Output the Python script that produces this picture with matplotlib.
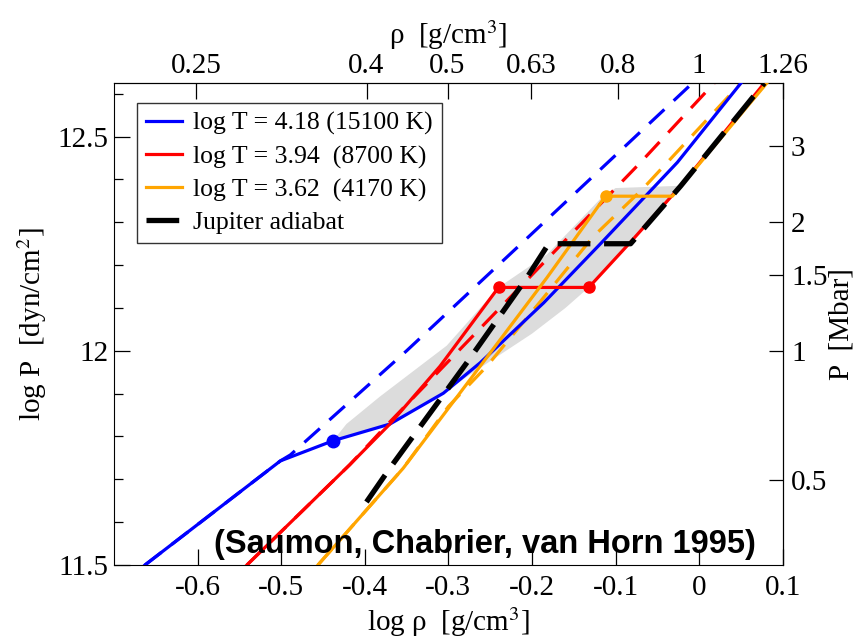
import numpy as np
import matplotlib
matplotlib.use("Agg")
import matplotlib.pyplot as plt

plt.rcParams['font.family'] = ['Liberation Serif', 'DejaVu Serif']
plt.rcParams['mathtext.fontset'] = 'stix'
plt.rcParams['axes.unicode_minus'] = False

# isotherms, log rho vs log P
blue_x = [-0.663, -0.501, -0.438, -0.370, -0.306, -0.262, -0.186, -0.118, -0.026, 0.050]
blue_y = [11.500, 11.743, 11.790, 11.829, 11.901, 11.972, 12.112, 12.250, 12.440, 12.625]
blue_dash_x = [-0.663, -0.501, -0.489, -0.350, -0.214, -0.008]
blue_dash_y = [11.500, 11.743, 11.757, 12.000, 12.248, 12.625]

red_x = [-0.541, -0.418, -0.370, -0.310, -0.240, -0.132, -0.082, -0.022, 0.078]
red_y = [11.500, 11.734, 11.829, 11.964, 12.148, 12.148, 12.254, 12.385, 12.625]
red_dash_x = [-0.541, -0.418, -0.372, -0.070, 0.018]
red_dash_y = [11.500, 11.734, 11.830, 12.440, 12.625]

orange_x = [-0.456, -0.354, -0.262, -0.182, -0.112, -0.032, 0.081]
orange_y = [11.500, 11.726, 11.964, 12.171, 12.361, 12.361, 12.625]
orange_dash_x = [-0.456, -0.354, -0.300, -0.254, -0.190, -0.127, -0.068, 0.050]
orange_dash_y = [11.500, 11.726, 11.870, 11.964, 12.115, 12.266, 12.377, 12.625]

jup_x = [-0.398, -0.370, -0.278, -0.206, -0.180, -0.082, -0.022, 0.078]
jup_y = [11.647, 11.726, 11.972, 12.171, 12.250, 12.250, 12.385, 12.625]

# phase transition end points
blue_pt_x, blue_pt_y = [-0.438], [11.790]
red_pt_x, red_pt_y = [-0.240, -0.132], [12.148, 12.148]
orange_pt_x, orange_pt_y = [-0.112], [12.361]

# shaded coexistence region
ppt_x = [-0.438, -0.422, -0.382, -0.302, -0.240, -0.182, -0.118, -0.100, -0.026,
         -0.030, -0.082, -0.132, -0.160, -0.200, -0.270, -0.306, -0.370, -0.438]
ppt_y = [11.790, 11.829, 11.893, 12.012, 12.148, 12.225, 12.355, 12.380, 12.385,
         12.370, 12.254, 12.148, 12.100, 12.040, 11.950, 11.901, 11.829, 11.790]

xticks = [-0.6, -0.5, -0.4, -0.3, -0.2, -0.1, 0.0, 0.1]
xtick_labels = ['-0.6', '-0.5', '-0.4', '-0.3', '-0.2', '-0.1', '0', '0.1']
yticks = [11.5, 12.0, 12.5]
ytick_labels = ['11.5', '12', '12.5']
rho_ticks = [0.25, 0.4, 0.5, 0.63, 0.8, 1, 1.26]
rho_labels = ['0.25', '0.4', '0.5', '0.63', '0.8', '1', '1.26']
mbar_ticks = [0.5, 1, 1.5, 2, 3]
mbar_labels = ['0.5', '1', '1.5', '2', '3']

fig = plt.figure(figsize=(8.62, 6.41), dpi=100)
ax = fig.add_axes([0.1323, 0.1186, 0.7757, 0.7524])

ax.fill(ppt_x, ppt_y, color='#dcdcdc', lw=0, zorder=1)

lw = 2.3
dash = (6.5, 4.0)
ax.plot(blue_dash_x, blue_dash_y, color='blue', lw=lw, dashes=dash, zorder=2)
ax.plot(red_dash_x, red_dash_y, color='red', lw=lw, dashes=dash, zorder=2)
ax.plot(orange_dash_x, orange_dash_y, color='orange', lw=lw, dashes=dash, zorder=2)
ax.plot(blue_x, blue_y, color='blue', lw=lw, zorder=3, label='log T = 4.18 (15100 K)')
ax.plot(red_x, red_y, color='red', lw=lw, zorder=3, label='log T = 3.94  (8700 K)')
ax.plot(orange_x, orange_y, color='orange', lw=lw, zorder=3, label='log T = 3.62  (4170 K)')
ax.plot(jup_x, jup_y, color='black', lw=3.8, dashes=(6.2, 2.6), zorder=4, label='Jupiter adiabat')

ax.plot(blue_pt_x, blue_pt_y, 'o', color='blue', ms=9, zorder=5)
ax.plot(red_pt_x, red_pt_y, 'o', color='red', ms=8, zorder=5)
ax.plot(orange_pt_x, orange_pt_y, 'o', color='orange', ms=8, zorder=5)

ax.set_xlim(-0.7, 0.1)
ax.set_ylim(11.5, 12.626)
ax.set_xticks(xticks, xtick_labels)
ax.set_yticks(yticks, ytick_labels)
ax.set_yticks(np.arange(11.6, 12.61, 0.1), minor=True)
ax.tick_params(which='major', direction='in', length=11.5, width=0.9, labelsize=21,
               top=False, right=False)
ax.tick_params(axis='x', pad=7)
ax.tick_params(axis='y', pad=4)
ax.tick_params(which='minor', direction='in', length=6.5, width=0.9, right=False)
ax.set_xlabel('log ρ  [g/cm$^3$]', fontsize=21, labelpad=3)
ax.set_ylabel('log P  [dyn/cm$^2$]', fontsize=21, labelpad=6)

top = ax.secondary_xaxis('top')
top.set_xticks(np.minimum(np.log10(rho_ticks), 0.1), rho_labels)
top.tick_params(direction='in', length=11.5, width=0.9, labelsize=21, pad=3)
top.set_xlabel('ρ  [g/cm$^3$]', fontsize=21, labelpad=6)

right = ax.secondary_yaxis('right')
right.set_yticks(12 + np.log10(mbar_ticks), mbar_labels)
right.tick_params(direction='in', length=10, width=0.9, labelsize=21, pad=6)
right.set_ylabel('P  [Mbar]', fontsize=21, labelpad=1)

leg = ax.legend(loc='upper left', bbox_to_anchor=(0.034, 0.958), borderaxespad=0,
                fontsize=18.5, frameon=True, fancybox=False, edgecolor='black',
                handlelength=1.4, handletextpad=0.45, labelspacing=0.38, borderpad=0.35)
leg.get_frame().set_linewidth(1.0)

ax.text(0.555, 0.043, '(Saumon, Chabrier, van Horn 1995)', transform=ax.transAxes,
        ha='center', va='center', fontsize=23.5, fontweight='bold',
        family='Liberation Sans', zorder=6)

fig.savefig('out.png', dpi=100)
